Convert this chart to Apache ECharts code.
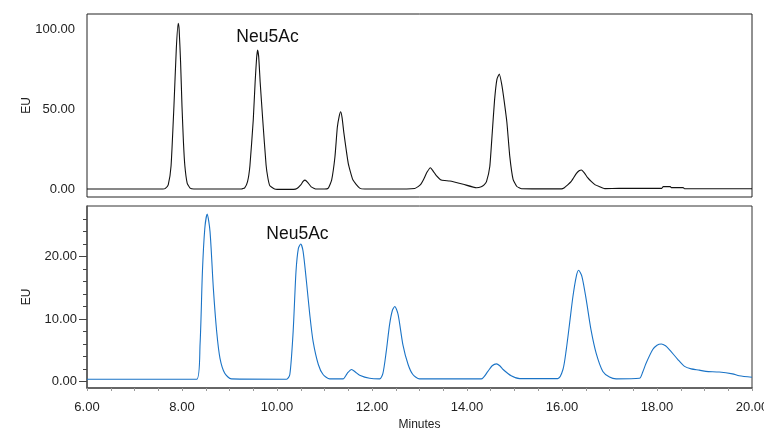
<!DOCTYPE html>
<html>
<head>
<meta charset="utf-8">
<script src="https://cdn.jsdelivr.net/npm/echarts@6/dist/echarts.min.js"></script>
<style>html,body{margin:0;padding:0;background:#fff;}#c{width:764px;height:428px;}</style>
</head>
<body>
<div id="c"></div>
<script>
// Top trace (black) – retention time (min) and response (EU)
var topTimes = [6.00,7.60,7.65,7.71,7.77,7.83,7.88,7.92,7.94,7.97,8.00,8.03,8.06,8.11,8.17,8.25,
  9.25,9.32,9.38,9.43,9.50,9.54,9.57,9.59,9.615,9.645,9.70,9.77,9.81,9.85,9.95,
  10.10,10.35,10.42,10.50,10.55,10.59,10.64,10.72,10.83,
  11.00,11.08,11.15,11.22,11.27,11.31,11.34,11.37,11.41,11.50,11.60,11.74,11.85,
  12.48,12.90,12.97,13.03,13.08,13.16,13.23,13.29,13.35,13.46,13.64,13.92,14.20,14.30,14.36,14.41,14.48,14.53,14.58,14.63,14.68,14.73,14.78,14.84,14.90,14.97,15.05,15.15,
  15.50,15.99,16.05,16.12,16.19,16.30,16.36,16.41,16.47,16.54,16.62,16.70,16.79,16.90,17.20,18.10,18.13,18.28,18.30,18.55,18.58,20.00];
var topValues = [0.4,0.4,0.8,3,15,52,88,104,100,80,52,30,15,4,1,0.4,
  0.4,1.2,5,15,43.6,67.5,82,87.3,83,67.5,43.6,15.4,7,2.5,0.5,
  0.2,0.2,0.7,3,5.2,6,4.8,1.8,0.4,
  0.4,1,6,20.6,39,46,48.7,45,35,16.5,6,1,0.4,
  0.4,0.8,1.9,3.5,6,11,13.75,11.5,9,6,5.4,3.4,1.25,1.8,3,5,14.5,35,56,69,72.3,66,56,42,21,6.5,2,0.6,
  0.5,0.5,1.25,3,5,10,11.8,12.3,10.5,7.5,5,3,1.9,0.7,0.8,0.8,1.9,1.9,1.3,1.3,0.6,0.6];

// Bottom trace (blue)
var botTimes = [6.00,8.31,8.38,8.43,8.48,8.53,8.59,8.66,8.73,8.80,8.90,9.04,
  10.20,10.27,10.34,10.40,10.45,10.50,10.55,10.62,10.69,10.76,10.87,10.97,11.11,
  11.39,11.48,11.57,11.65,11.74,11.95,12.16,
  12.23,12.30,12.37,12.43,12.48,12.55,12.65,12.76,12.86,13.00,
  14.30,14.44,14.53,14.62,14.69,14.76,14.93,15.11,
  15.91,16.02,16.09,16.16,16.23,16.30,16.35,16.42,16.51,16.61,16.72,16.86,17.00,17.14,
  17.63,17.70,17.77,17.91,18.00,18.09,18.18,18.26,18.44,18.58,18.72,18.89,19.03,19.31,19.59,19.73,20.00];
var botValues = [0.35,0.35,5.9,17.6,24.5,26.8,24,14.9,8,3.7,1.3,0.4,
  0.35,1.1,8,17.6,21.3,22,20.8,16,10.7,6.4,2.7,1.1,0.4,
  0.4,1.3,1.9,1.5,1.0,0.5,0.4,
  1.3,4.8,9.1,11.4,12,10.7,5.9,2.7,1.1,0.4,
  0.4,1.6,2.5,2.8,2.5,1.9,0.9,0.45,
  0.45,1.9,5.1,9.3,13.6,16.8,17.8,16.8,13.1,8.3,4.5,1.6,0.7,0.4,
  0.5,1.5,2.9,5.1,5.8,6.0,5.7,5.1,3.5,2.4,2.0,1.8,1.6,1.5,1.2,0.9,0.65];

// Annotations
var annoText = 'Neu5Ac';
var topAnno = [9.80, 95.5];
var botAnno = [10.43, 23.6];

// Axis ticks / labels
var xMin = 6, xMax = 20;
var topLabels = [0, 50, 100];
var botLabels = [0, 10, 20];
var botMinorTicks = [0,2,4,6,8,10,12,14,16,18,20,22,24,26];

function pairs(t, v) { return t.map(function (x, i) { return [x, v[i]]; }); }
var fmt2 = function (v) { return Number(v).toFixed(2); };
var font = 'Liberation Sans, Arial, sans-serif';

var chart = echarts.init(document.getElementById('c'), null, { renderer: 'canvas' });
chart.setOption({
  animation: false,
  backgroundColor: '#fff',
  grid: [
    { left: 87, right: 12, top: 14, height: 183, show: true, borderColor: '#222', borderWidth: 1,
      containLabel: false, outerBoundsMode: 'none' },
    { left: 87, right: 12, top: 206, height: 182, show: true, borderColor: '#333', borderWidth: 1,
      containLabel: false, outerBoundsMode: 'none' }
  ],
  xAxis: [
    { type: 'value', gridIndex: 0, min: xMin, max: xMax, interval: 2,
      axisLine: { show: false }, axisTick: { show: false }, axisLabel: { show: false }, splitLine: { show: false } },
    { type: 'value', gridIndex: 1, min: xMin, max: xMax, interval: 0.5,
      axisLine: { show: true, onZero: false, lineStyle: { color: '#555', width: 1.5 } },
      axisTick: { show: true, length: 3, lineStyle: { color: '#999' } },
      axisLabel: { margin: 13, fontSize: 13, fontFamily: font, color: '#222',
        formatter: function (v) { return (Math.abs(v % 2) < 1e-9) ? fmt2(v) : ''; } },
      splitLine: { show: false },
      name: 'Minutes', nameLocation: 'middle', nameGap: 31, nameMoveOverlap: false,
      nameTextStyle: { fontSize: 12, fontFamily: font, color: '#222' } }
  ],
  yAxis: [
    { type: 'value', gridIndex: 0, min: -4.56, max: 109.8,
      axisLine: { show: false }, axisTick: { show: false }, splitLine: { show: false },
      axisLabel: { customValues: topLabels, formatter: fmt2, margin: 12, fontSize: 13, fontFamily: font, color: '#222' },
      name: 'EU', nameLocation: 'middle', nameGap: 54, nameRotate: 90, nameMoveOverlap: false,
      nameTextStyle: { fontSize: 12, fontFamily: font, color: '#222' } },
    { type: 'value', gridIndex: 1, min: -1.06, max: 28.1, position: 'left',
      axisLine: { show: true, onZero: false, lineStyle: { color: '#555', width: 1.5 } },
      axisTick: { show: true, customValues: botMinorTicks, length: 4, lineStyle: { color: '#444' } },
      splitLine: { show: false },
      axisLabel: { customValues: botLabels, formatter: fmt2, margin: 10, fontSize: 13, fontFamily: font, color: '#222' },
      name: 'EU', nameLocation: 'middle', nameGap: 54, nameRotate: 90, nameMoveOverlap: false,
      nameTextStyle: { fontSize: 12, fontFamily: font, color: '#222' } },
    { type: 'value', gridIndex: 1, min: -1.06, max: 28.1, position: 'left', offset: 0,
      axisLine: { show: false }, splitLine: { show: false }, axisLabel: { show: false },
      axisTick: { show: true, customValues: botLabels, length: 8, lineStyle: { color: '#444' } } }
  ],
  series: [
    { type: 'line', xAxisIndex: 0, yAxisIndex: 0, data: pairs(topTimes, topValues),
      showSymbol: false, smooth: 0.15, lineStyle: { color: '#111', width: 1.1 }, silent: true,
      markPoint: { symbol: 'circle', symbolSize: 1, itemStyle: { color: 'rgba(0,0,0,0)' },
        label: { show: true, position: 'inside', formatter: annoText, fontSize: 17.5, fontFamily: font, color: '#111' },
        data: [{ coord: topAnno }] } },
    { type: 'line', xAxisIndex: 1, yAxisIndex: 1, data: pairs(botTimes, botValues),
      showSymbol: false, smooth: 0.25, lineStyle: { color: '#1a73c6', width: 1.1 }, silent: true,
      markPoint: { symbol: 'circle', symbolSize: 1, itemStyle: { color: 'rgba(0,0,0,0)' },
        label: { show: true, position: 'inside', formatter: annoText, fontSize: 17.5, fontFamily: font, color: '#111' },
        data: [{ coord: botAnno }] } }
  ]
});
</script>
</body>
</html>
